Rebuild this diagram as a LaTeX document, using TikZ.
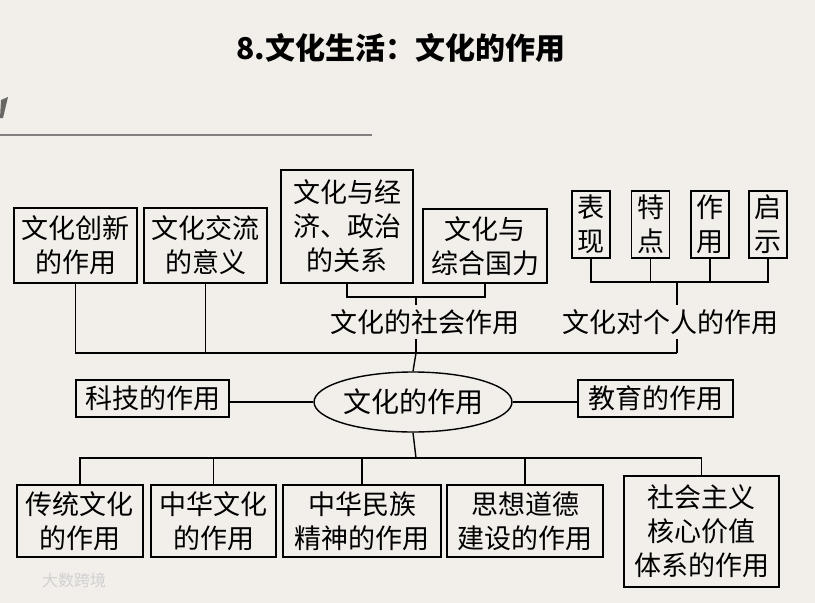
\documentclass[tikz,border=0pt]{standalone}
\usepackage{fontspec}
\setmainfont{Noto Sans CJK SC}
\usetikzlibrary{shapes.geometric}
\definecolor{bg}{RGB}{242,238,234}
\definecolor{rule}{RGB}{130,128,126}
\begin{document}
\begin{tikzpicture}[x=1pt,y=-1pt,
  box/.style={draw,line width=1.4pt,inner sep=0pt,align=center,font=\fontsize{27}{34}\selectfont},
  lbl/.style={inner xsep=2pt,inner ysep=4pt,font=\fontsize{27}{34}\selectfont},
  link/.style={line width=1.4pt}]
\fill[bg] (0,0) rectangle (815,603);
\useasboundingbox (0,0) rectangle (815,603);
% decorative gray strokes
\fill[rule!80!black] (1,100) -- (8,97) -- (3,118) -- (0,118) -- cycle;
\draw[rule,line width=2pt] (0,135) -- (372,135);
% title
\node[font=\bfseries\fontsize{30}{36}\selectfont] (title) at (401,48) {8.文化生活：文化的作用};
% upper boxes
\node[box,minimum width=123pt,minimum height=75pt] (b1) at (75.5,245.5) {文化创新\\的作用};
\node[box,minimum width=123pt,minimum height=75pt] (b2) at (205.5,245.5) {文化交流\\的意义};
\node[box,minimum width=132pt,minimum height=113pt] (b3) at (347,226.5) {文化与经\\济、政治\\的关系};
\node[box,minimum width=124pt,minimum height=74pt] (b4) at (485,246) {文化与\\综合国力};
\node[box,minimum width=38pt,minimum height=67pt] (s1) at (591,224.5) {表\\现};
\node[box,minimum width=38pt,minimum height=67pt] (s2) at (650.5,224.5) {特\\点};
\node[box,minimum width=38pt,minimum height=67pt] (s3) at (710,224.5) {作\\用};
\node[box,minimum width=38pt,minimum height=67pt] (s4) at (768,224.5) {启\\示};
\node[lbl] (lab1) at (425,322) {文化的社会作用};
\node[lbl] (lab2) at (670,322) {文化对个人的作用};
% middle row
\node[box,minimum width=153pt,minimum height=37pt] (kj) at (152.5,398.5) {科技的作用};
\node[box,minimum width=155pt,minimum height=37pt] (jy) at (655.5,398.5) {教育的作用};
\node[draw,ellipse,line width=1.4pt,inner sep=0pt,minimum width=177pt,minimum height=60pt,
      font=\fontsize{28}{34}\selectfont] (e) at (413,402) {文化的作用};
% lower boxes
\node[box,minimum width=126pt,minimum height=72pt] (p1) at (80,521) {传统文化\\的作用};
\node[box,minimum width=125pt,minimum height=72pt] (p2) at (213.5,521) {中华文化\\的作用};
\node[box,minimum width=158pt,minimum height=72pt] (p3) at (362,521) {中华民族\\精神的作用};
\node[box,minimum width=156pt,minimum height=72pt] (p4) at (525,521) {思想道德\\建设的作用};
\node[box,minimum width=155pt,minimum height=111pt] (p5) at (701.5,531.5) {社会主义\\核心价值\\体系的作用};
% watermark
\node[text=black!18,font=\fontsize{16}{16}\selectfont] (wm) at (74,580) {大数跨境};
% junction points
\coordinate (j1) at (416,297);
\coordinate (r1) at (416,353);
\coordinate (j2) at (677,282);
\coordinate (r2) at (677,353);
\coordinate (r0) at (416,458);
% connectors: social role
\draw[link] (b3.south) |- (j1) -| (b4.south);
\draw[link] (j1) -- (j1 |- lab1.north);
\draw[link] (j1 |- lab1.south) -- (r1);
% connectors: individual role
\draw[link] (s1.south) |- (j2) -| (s4.south);
\draw[link] (s2.south) -- (s2.south |- j2);
\draw[link] (s3.south) -- (s3.south |- j2);
\draw[link] (j2) -- (j2 |- lab2.north);
\draw[link] (j2 |- lab2.south) -- (r2);
% main upper row
\draw[link] (b1.south) |- (r2);
\draw[link] (b2.south) -- (b2.south |- r1);
\draw[link] (r1) -- (e.north);
% sides
\draw[link] (e.west) -- (e.west -| kj.east);
\draw[link] (e.east) -- (e.east -| jy.west);
% lower row
\draw[link] (e.south) -- (r0);
\draw[link] (p1.north) |- (r0) -| (p5.north);
\draw[link] (p2.north) -- (p2.north |- r0);
\draw[link] (p3.north) -- (p3.north |- r0);
\draw[link] (p4.north) -- (p4.north |- r0);
\end{tikzpicture}
\end{document}
